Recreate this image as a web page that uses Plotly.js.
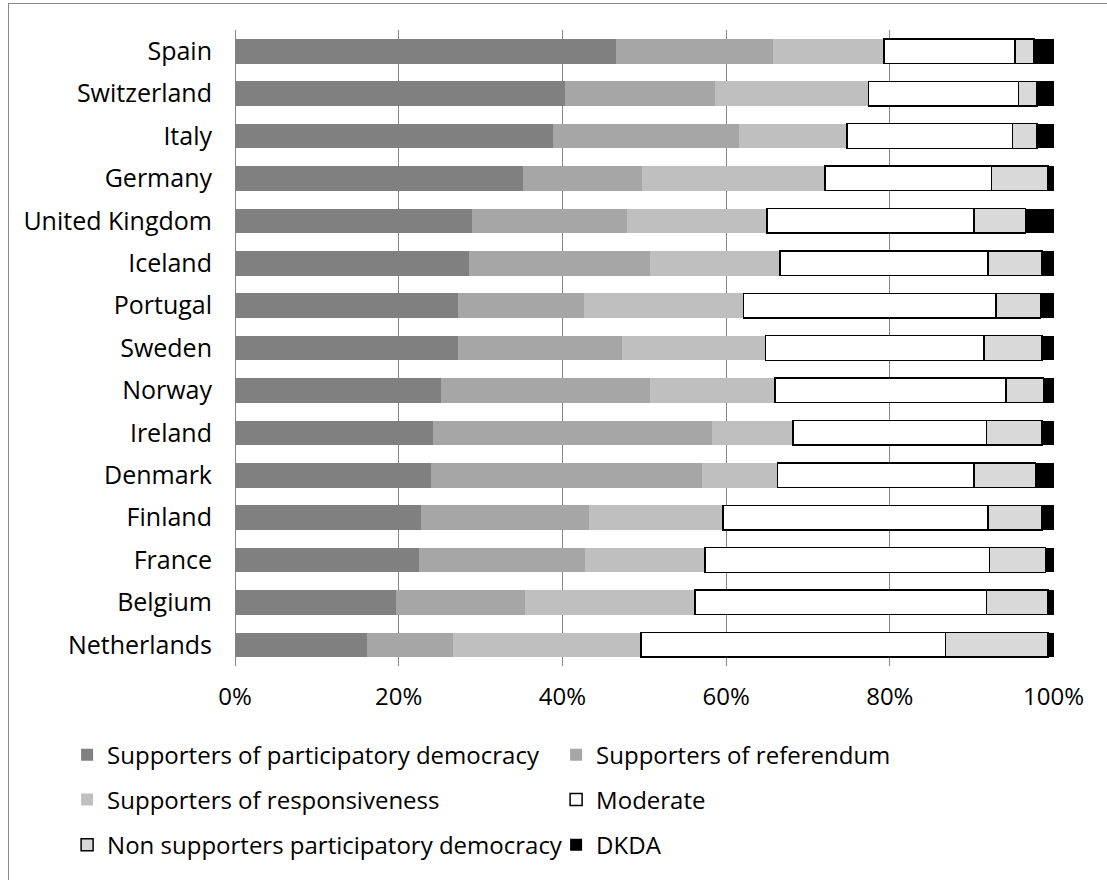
<!DOCTYPE html>
<html>
<head>
<meta charset="utf-8">
<script src="https://cdn.plot.ly/plotly-3.0.1.min.js"></script>
<style>
html,body{margin:0;padding:0;background:#ffffff;overflow:hidden;}
#frame{position:absolute;left:8px;top:3px;width:1200px;height:1000px;border-left:1px solid #8a8a8a;border-top:1px solid #8a8a8a;}
#chart{position:absolute;left:0;top:0;width:1107px;height:880px;}
</style>
</head>
<body>
<div id="frame"></div>
<div id="chart"></div>
<script>
const countries = ["Spain","Switzerland","Italy","Germany","United Kingdom","Iceland","Portugal","Sweden","Norway","Ireland","Denmark","Finland","France","Belgium","Netherlands"];

const participatory = [46.5,40.3,38.9,35.2,29.0,28.6,27.2,27.2,25.2,24.2,24.0,22.7,22.5,19.7,16.1];
const referendum    = [19.2,18.4,22.7,14.5,18.9,22.1,15.4,20.1,25.5,34.1,33.1,20.5,20.3,15.7,10.5];
const responsive    = [13.6,18.7,13.2,22.4,17.1,15.9,19.5,17.5,15.3, 9.9, 9.2,16.4,14.6,20.8,23.0];
const moderate      = [16.0,18.3,20.2,20.3,25.3,25.4,30.9,26.7,28.2,23.6,24.0,32.4,34.8,35.6,37.2];
const nonSupporters = [ 2.3, 2.3, 3.0, 6.9, 6.3, 6.6, 5.4, 7.1, 4.6, 6.8, 7.5, 6.6, 6.8, 7.5,12.5];
const dkda          = [ 2.4, 2.0, 2.0, 0.7, 3.4, 1.4, 1.6, 1.4, 1.2, 1.4, 2.2, 1.4, 1.0, 0.7, 0.7];

const seriesNames = ["Supporters of participatory democracy","Supporters of referendum","Supporters of responsiveness","Moderate","Non supporters participatory democracy","DKDA"];
const xTicks = [0,20,40,60,80,100];

const FONT = "Open Sans, Lato, sans-serif";
const seriesData = [participatory, referendum, responsive, moderate, nonSupporters, dkda];
const fills = ["#808080","#a6a6a6","#bfbfbf","#ffffff","#d9d9d9","#000000"];
const lines = [0,0,0,1.5,1.5,0];
const legendIds = ["legend","legend","legend2","legend2","legend3","legend3"];

const traces = seriesData.map((vals,i)=>({
  type:"bar",
  orientation:"h",
  name:seriesNames[i],
  x:vals,
  y:countries,
  legend:legendIds[i],
  marker:{color:fills[i], line:{color:"#000000", width:lines[i]}},
  hoverinfo:"x+y+name"
}));

const legendBase = {
  orientation:"h",
  xanchor:"left",
  yanchor:"middle",
  x:-0.205,
  traceorder:"normal",
  entrywidth:444,
  entrywidthmode:"pixels",
  bgcolor:"rgba(0,0,0,0)",
  borderwidth:0,
  font:{family:FONT, size:24, color:"#000000"}
};

const layout = {
  width:1107,
  height:880,
  margin:{l:235, r:53, t:30, b:214, pad:0},
  paper_bgcolor:"rgba(0,0,0,0)",
  plot_bgcolor:"#ffffff",
  barmode:"stack",
  bargap:0.42,
  font:{family:FONT, size:24, color:"#000000"},
  xaxis:{
    range:[0,100.06],
    tickvals:xTicks,
    ticktext:xTicks.map(v=>v+"%"),
    showgrid:true,
    gridcolor:"#868686",
    gridwidth:1,
    zeroline:true,
    zerolinecolor:"#868686",
    zerolinewidth:1,
    showline:false,
    ticks:"",
    ticklabelstandoff:14,
    tickfont:{family:FONT, size:24, color:"#000000"},
    fixedrange:true
  },
  yaxis:{
    type:"category",
    categoryorder:"array",
    categoryarray:countries,
    autorange:"reversed",
    showgrid:false,
    zeroline:false,
    showline:false,
    ticks:"",
    ticklabelstandoff:22,
    tickfont:{family:FONT, size:25, color:"#000000"},
    fixedrange:true
  },
  legend:Object.assign({}, legendBase, {y:-0.1400}),
  legend2:Object.assign({}, legendBase, {y:-0.2107}),
  legend3:Object.assign({}, legendBase, {y:-0.2815}),
  showlegend:true
};

Plotly.newPlot("chart", traces, layout, {displayModeBar:false, staticPlot:true});
</script>
</body>
</html>
